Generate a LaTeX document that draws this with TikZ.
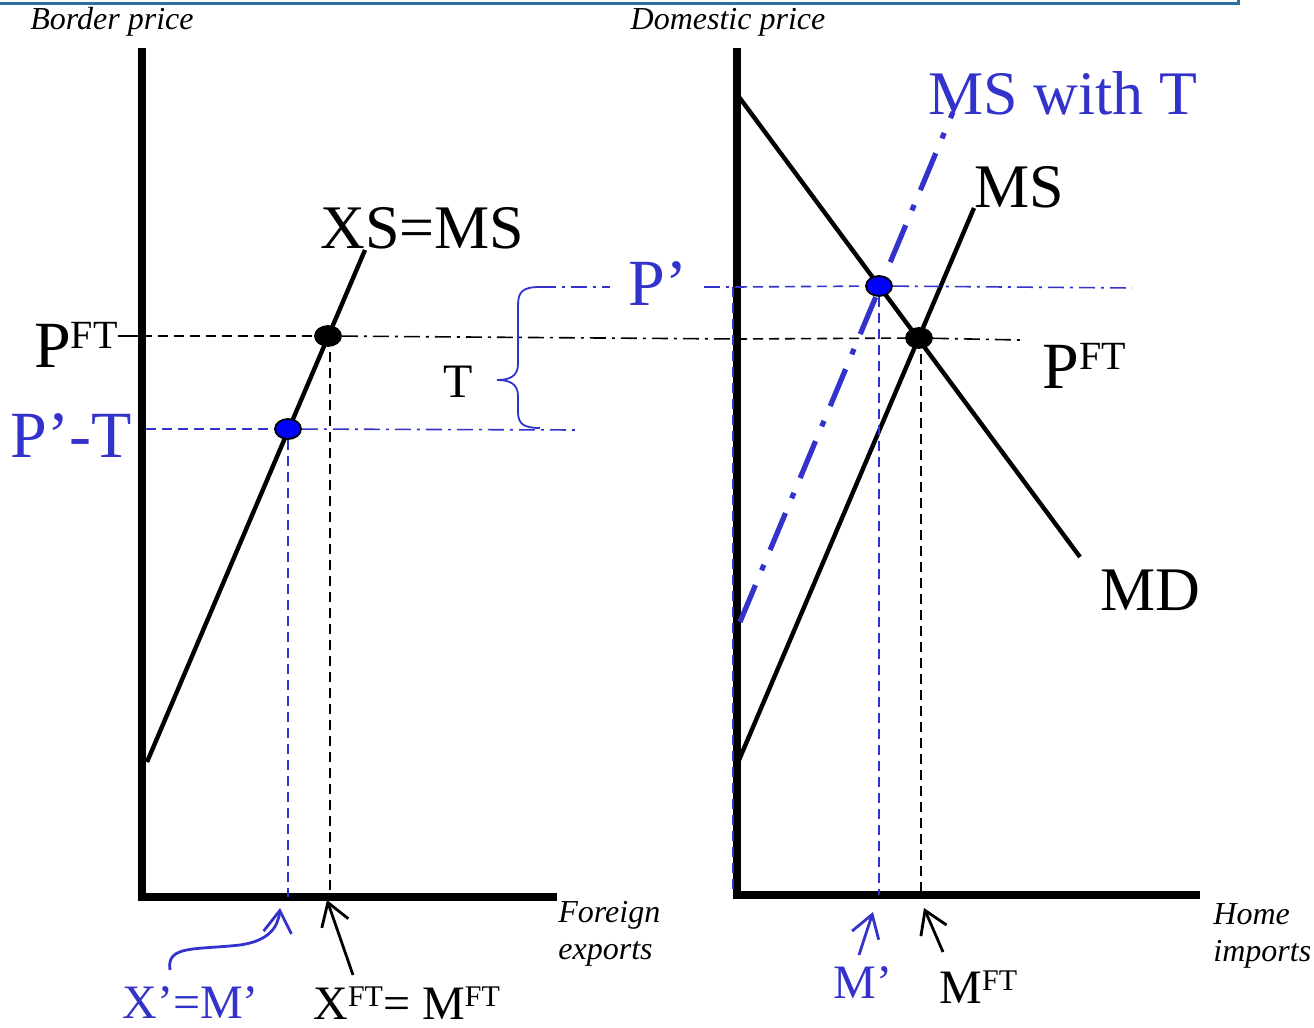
\documentclass[tikz,border=0pt]{standalone}
\usepackage{fontspec}
\setmainfont{Liberation Serif}
\usepackage{tikz}
\usetikzlibrary{
  arrows.meta,
  shapes.geometric,
  backgrounds
}
\definecolor{tariffBlue}{HTML}{3333CC}
\definecolor{dotBlue}{HTML}{0000FF}
\definecolor{frameTeal}{HTML}{2A6F9E}
\newcommand{\FTsup}[2]{\raisebox{#2}{\fontsize{#1}{#1}\selectfont FT}}
\tikzset{
  frameline/.style={draw=frameTeal, line width=1.5pt},
  axisline/.style={line width=3.8pt, line join=miter},
  curveline/.style={line width=2.2pt},
  tariffline/.style={
    draw=tariffBlue, line width=2.6pt,
    dash pattern=on 20pt off 8pt on 3pt off 8pt,
  },
  guideblack/.style={line width=0.8pt, dash pattern=on 5pt off 3pt},
  dashdotblack/.style={line width=0.8pt, dash pattern=on 8pt off 3pt on 1.5pt off 3pt},
  guideblue/.style={draw=tariffBlue, line width=0.8pt, dash pattern=on 5pt off 3pt},
  dashdotblue/.style={draw=tariffBlue, line width=0.8pt, dash pattern=on 8pt off 3pt on 1.5pt off 3pt},
  bracket/.style={draw=tariffBlue, line width=0.9pt},
  eqdot/.style={
    ellipse, draw=black, fill=#1, line width=0.9pt,
    minimum width=13pt, minimum height=10pt, inner sep=0pt,
  },
  qtyarrow/.style={
    -{Straight Barb[length=11pt,width=14pt]}, line width=1.4pt,
  },
  axislabel/.style={font=\fontsize{16}{18.5}\selectfont\itshape, inner sep=0pt},
  biglabel/.style={font=\fontsize{31}{36}\selectfont, inner sep=0pt},
  pricelabel/.style={font=\fontsize{33}{38}\selectfont, inner sep=0pt},
  taxlabel/.style={font=\fontsize{24}{28}\selectfont, inner sep=0pt},
  qtylabel/.style={font=\fontsize{24}{28}\selectfont, inner sep=0pt},
}

\begin{document}
\begin{tikzpicture}[x=0.5pt, y=-0.5pt]
  \useasboundingbox (0,0) rectangle (1314,1028);

  % ─── Slide frame edge ─────────────────────────────────────────────────
  \draw[frameline] (0,3) -- (1238,3) -- (1238,0);

  % ─── Equilibrium points ───────────────────────────────────────────────
  \node[eqdot=black]   (ftL) at (328,336) {};
  \node[eqdot=dotBlue] (ptL) at (288,429) {};
  \node[eqdot=black]   (ftR) at (919,338) {};
  \node[eqdot=dotBlue] (ptR) at (879,286) {};

  % ─── Reference points ─────────────────────────────────────────────────
  \coordinate (topL) at (142,48);
  \coordinate (oL)   at (142,897);
  \coordinate (endL) at (557,897);
  \coordinate (topR) at (737,48);
  \coordinate (oR)   at (737,895);
  \coordinate (endR) at (1200,895);

  \coordinate (xsLow) at (147,762);
  \coordinate (xsTop) at (365,250);
  \coordinate (msLow) at (739,760);
  \coordinate (msTop) at (974,208);
  \coordinate (mdTop) at (739,97);
  \coordinate (mdLow) at (1080,557);
  \coordinate (mstLow) at (740,622);
  \coordinate (mstTop) at (953,112);

  \coordinate (pftTick) at (118,336);
  \coordinate (pftAxL)  at (142,336);
  \coordinate (pftAxR)  at (737,339);
  \coordinate (pftEnd)  at (1020,340);

  \coordinate (ppStart) at (540,287);
  \coordinate (ppGapL)  at (610,287);
  \coordinate (ppGapR)  at (704,287);
  \coordinate (ppAx)    at (737,287);
  \coordinate (ppEnd)   at (1132,288);

  \coordinate (ptmStart) at (146,429);
  \coordinate (ptmEnd)   at (578,430);

  \begin{scope}[on background layer]
    % axes
    \draw[axisline] (topL) -- (oL) -- (endL);
    \draw[axisline] (topR) -- (oR) -- (endR);

    % supply and demand curves
    \draw[curveline] (xsLow) -- (xsTop);
    \draw[curveline] (msLow) -- (msTop);
    \draw[curveline] (mdTop) -- (mdLow);
    \draw[tariffline] (mstLow) -- (mstTop);

    % free-trade price
    \draw[line width=0.8pt] (pftTick) -- (pftAxL);
    \draw[guideblack] (pftAxL) -- (ftL);
    \draw[dashdotblack] (ftL) -- (pftAxR);
    \draw[guideblack] (pftAxR) -- (ftR);
    \draw[dashdotblack] (ftR) -- (pftEnd);

    % domestic price with tariff
    \draw[dashdotblue] (ppStart) -- (ppGapL);
    \draw[dashdotblue] (ppGapR) -- (ppAx);
    \draw[guideblue] (ppAx) -- (ptR);
    \draw[dashdotblue] (ptR) -- (ppEnd);
    \draw[guideblue] ([xshift=-2pt]ppAx) -- ([xshift=-2pt]oR);

    % border price with tariff
    \draw[guideblue] (ptmStart) -- (ptL);
    \draw[dashdotblue] (ptL) -- (ptmEnd);

    % drop lines to the quantity axes
    \draw[guideblack] ([xshift=1pt]ftL.center) -- ([xshift=1pt]ftL |- oL);
    \draw[guideblue]  (ptL) -- (ptL |- oL);
    \draw[guideblack] ([xshift=1pt]ftR.center) -- ([xshift=1pt]ftR |- oR);
    \draw[guideblue]  (ptR) -- (ptR |- oR);
  \end{scope}

  % Tariff bracket
  \draw[bracket] (ppStart) .. controls (522,287) and (518,292) .. (518,306)
    -- (518,364) .. controls (518,376) and (510,380) .. (497,380)
    .. controls (510,380) and (518,384) .. (518,396)
    -- (518,412) .. controls (518,424) and (524,428) .. (540,428);

  % ─── Labels ───────────────────────────────────────────────────────────
  \node[axislabel, anchor=base] (borderLbl) at (112,29) {Border price};
  \node[axislabel, anchor=base] (domLbl) at (728,29) {Domestic price};

  \node[biglabel, anchor=base west] (xsmsLbl) at (320,248) {XS=MS};
  \node[biglabel, text=tariffBlue, anchor=base west] (mstLbl) at (928,114) {MS with T};
  \node[biglabel, anchor=base west] (msLbl) at (974,207) {MS};
  \node[biglabel, anchor=base west] (mdLbl) at (1100,610) {MD};

  \node[pricelabel, anchor=base east] (pftLblL) at (118,367) {P\FTsup{20}{9.5pt}};
  \node[pricelabel, anchor=base west] (pftLblR) at (1042,388) {P\FTsup{20}{9.5pt}};
  \node[pricelabel, text=tariffBlue, anchor=base east] (ptLbl) at (132,457) {P’-T};
  \node[pricelabel, text=tariffBlue, anchor=base west] (ppLbl) at (628,305) {P’};
  \node[taxlabel, anchor=base] (tLbl) at (458,397) {T};

  \node[axislabel, anchor=north west, align=left] (forLbl) at (558,901) {Foreign\\exports};
  \node[axislabel, anchor=north west, align=left] (homeLbl) at (1213,903) {Home\\imports};

  \node[qtylabel, text=tariffBlue, anchor=base west] (xmpLbl) at (122,1018) {X’=M’};
  \node[qtylabel, anchor=base west] (xftLbl) at (313,1019) {X\FTsup{15}{6.5pt}= M\FTsup{15}{6.5pt}};
  \node[qtylabel, text=tariffBlue, anchor=base west] (mpLbl) at (833,998) {M’};
  \node[qtylabel, anchor=base west] (mftLbl) at (939,1003) {M\FTsup{15}{6.5pt}};

  % ─── Pointers to the quantity axes ────────────────────────────────────
  \coordinate (xmpTail) at (170,970);
  \coordinate (xmpTip)  at (280,908);
  \coordinate (xftTail) at (353,975);
  \coordinate (xftTip)  at (327,900);
  \coordinate (mpTail)  at (859,955);
  \coordinate (mpTip)   at (873,912);
  \coordinate (mftTail) at (943,952);
  \coordinate (mftTip)  at (924,908);

  \draw[qtyarrow, tariffBlue] (xmpTail) .. controls (166,945) and (195,950) .. (240,945)
    .. controls (268,941) and (278,928) .. (xmpTip);
  \draw[qtyarrow] (xftTail) -- (xftTip);
  \draw[qtyarrow, tariffBlue] (mpTail) -- (mpTip);
  \draw[qtyarrow] (mftTail) -- (mftTip);

\end{tikzpicture}
\end{document}
